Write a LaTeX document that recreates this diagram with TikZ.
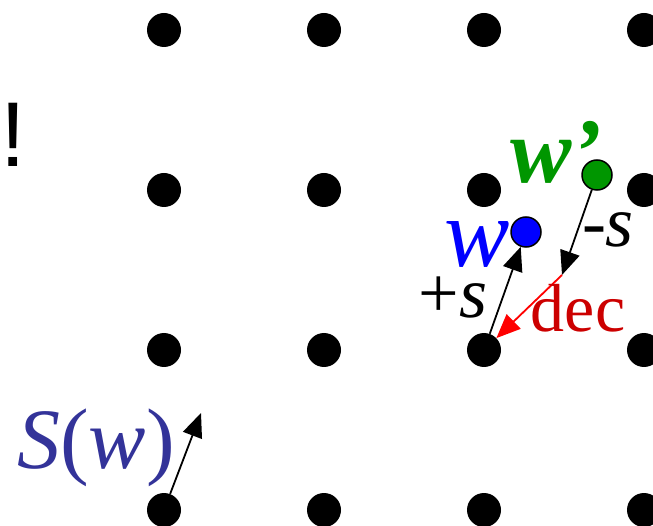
\documentclass[tikz,border=0pt]{standalone}
\usepackage{fontspec}
\setmainfont{Liberation Serif}
\newfontfamily\bangfont{Liberation Sans}
\usetikzlibrary{arrows.meta}
\definecolor{swblue}{RGB}{51,51,153}
\definecolor{wgreen}{RGB}{0,150,0}
\definecolor{wpgreen}{RGB}{0,150,0}
\definecolor{decred}{RGB}{204,0,0}
\tikzset{
  dot/.style={circle, fill=black, minimum size=34pt, inner sep=0pt},
  wdot/.style={circle, draw=black, line width=1.5pt, minimum size=30pt, inner sep=0pt},
  arr/.style={line width=1.8pt, -{Triangle[length=24pt,width=20pt]}},
  lbl/.style={anchor=base, inner sep=0pt},
}
\begin{document}
\begin{tikzpicture}[x=1pt,y=-1pt]
\useasboundingbox (0,0) rectangle (653,526);
\foreach \i/\x in {1/164,2/324,3/484,4/644}{
  \foreach \j/\y in {1/30,2/190,3/350,4/510}{
    \node[dot] (d\i\j) at (\x,\y) {};
  }
}
\node[wdot, fill=blue] (w) at (526,232) {};
\node[wdot, fill=wgreen] (wp) at (597,175) {};
\coordinate (m) at (562,275);
\coordinate (sw) at (201,413);
\draw[arr] (d33) -- (w);
\draw[arr] (wp) -- (m);
\draw[arr, red] (m) -- (d33);
\draw[arr] (d14) -- (sw);
\node[lbl, text=blue] (wl) at (477,267) {\fontsize{98}{98}\selectfont\itshape w};
\node[lbl, text=wpgreen] (wpl) at (556,183) {\fontsize{92}{92}\selectfont\bfseries\itshape w’};
\node[lbl] (ms) at (608,247) {\fontsize{72}{72}\selectfont -\textit{s}};
\node[lbl] (ps) at (453,318) {\fontsize{72}{72}\selectfont +\textit{s}};
\node[lbl, text=decred] (dec) at (578,332) {\fontsize{68}{68}\selectfont dec};
\node[lbl, text=swblue] (swl) at (96,468) {\fontsize{86}{86}\selectfont\textit{S}(\textit{w})};
\node[lbl] (bang) at (13,167) {\fontsize{92}{92}\selectfont\bangfont !};
\end{tikzpicture}
\end{document}
